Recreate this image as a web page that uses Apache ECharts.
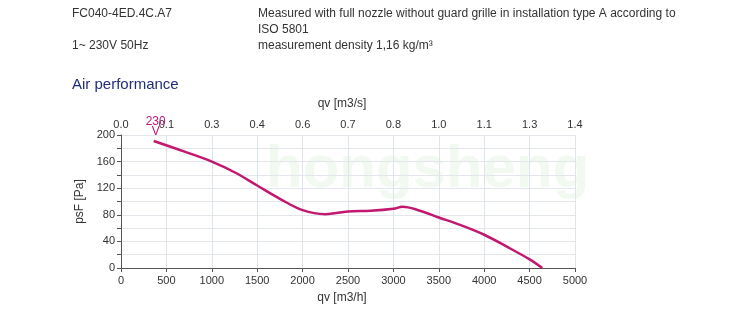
<!DOCTYPE html>
<html>
<head>
<meta charset="utf-8">
<script src="https://cdn.jsdelivr.net/npm/echarts@6/dist/echarts.min.js"></script>
<style>
html,body{margin:0;padding:0;background:#fff;}
#chart{width:750px;height:335px;}
</style>
</head>
<body>
<div id="chart"></div>
<script>
// Data
const flowM3h = [360, 700, 1000, 1250, 1500, 1750, 2000, 2250, 2500, 2750, 3000, 3100, 3250, 3500, 3750, 4000, 4250, 4500, 4640];
const pressurePa = [191, 175, 160, 144, 124, 104, 87, 81, 85, 86, 89, 92, 88, 76, 64, 50, 32, 13, 0];
const bottomTicks = [0, 500, 1000, 1500, 2000, 2500, 3000, 3500, 4000, 4500, 5000];
const topTickLabels = ['0.0', '0.1', '0.3', '0.4', '0.6', '0.7', '0.8', '1.0', '1.1', '1.3', '1.4'];
const yTicks = [0, 40, 80, 120, 160, 200];
const curveLabel = '230\nV';

const chart = echarts.init(document.getElementById('chart'), null, {renderer: 'canvas'});
const txt = '#333';
const font = '"Liberation Sans", Arial, sans-serif';

chart.setOption({
  animation: false,
  backgroundColor: '#fff',
  textStyle: {fontFamily: font},
  graphic: [
    {type: 'text', left: 72, top: 8, style: {text: 'FC040-4ED.4C.A7', font: '12px ' + font, fill: txt}},
    {type: 'text', left: 258, top: 8, style: {text: 'Measured with full nozzle without guard grille in installation type A according to', font: '12px ' + font, fill: txt}},
    {type: 'text', left: 258, top: 24, style: {text: 'ISO 5801', font: '12px ' + font, fill: txt}},
    {type: 'text', left: 72, top: 40, style: {text: '1~ 230V 50Hz', font: '12px ' + font, fill: txt}},
    {type: 'text', left: 258, top: 40, style: {text: 'measurement density 1,16 kg/m³', font: '12px ' + font, fill: txt}},
    {type: 'text', left: 72, top: 77, style: {text: 'Air performance', font: '15px ' + font, fill: '#1f2d7a'}},
    {type: 'text', left: 266, top: 140, z: -1, style: {text: 'hongsheng', font: 'bold 60px ' + font, fill: 'rgba(120,200,120,0.10)'}}
  ],
  grid: {left: 121, right: 175, top: 135, bottom: 67, containLabel: false},
  xAxis: [
    {
      type: 'value', position: 'bottom', min: 0, max: 5000, interval: 500,
      name: 'qv [m3/h]', nameLocation: 'middle', nameGap: 24,
      nameTextStyle: {color: txt, fontSize: 12, padding: [0, 12, 0, 0]},
      axisLine: {show: true, lineStyle: {color: '#555', width: 1}},
      axisTick: {show: true, length: 4, lineStyle: {color: '#555'}},
      axisLabel: {color: txt, fontSize: 11, margin: 7, formatter: v => String(v)},
      splitLine: {show: true, lineStyle: {color: '#dfe4ea', width: 1}}
    },
    {
      type: 'value', position: 'top', min: 0, max: 5000, interval: 500,
      name: 'qv [m3/s]', nameLocation: 'middle', nameGap: 25,
      nameTextStyle: {color: txt, fontSize: 12, padding: [0, 12, 0, 0]},
      axisLine: {show: false}, axisTick: {show: false},
      axisLabel: {color: txt, fontSize: 11, margin: 5,
        formatter: v => topTickLabels[bottomTicks.indexOf(v)] ?? ''},
      splitLine: {show: false}
    }
  ],
  yAxis: {
    type: 'value', min: 0, max: 200, interval: 20,
    name: 'psF [Pa]', nameLocation: 'middle', nameGap: 31, nameRotate: 90,
    nameTextStyle: {color: txt, fontSize: 12},
    axisLine: {show: true, lineStyle: {color: '#555', width: 1}},
    axisTick: {show: true, length: 4, lineStyle: {color: '#555'}},
    axisLabel: {color: txt, fontSize: 11, margin: 6,
      formatter: v => yTicks.includes(v) ? String(v) : ''},
    splitLine: {show: true, lineStyle: {color: '#e3e7ec', width: 1}}
  },
  series: [{
    type: 'line', xAxisIndex: 0, smooth: 0.35, symbol: 'none',
    data: flowM3h.map((x, i) => [x, pressurePa[i]]),
    lineStyle: {color: '#c2186f', width: 2.5},
    markPoint: {
      symbol: 'circle', symbolSize: 0,
      data: [{coord: [flowM3h[0], pressurePa[0]],
        label: {show: true, formatter: curveLabel, color: '#c2187a', fontSize: 12, lineHeight: 10, offset: [2, -14], align: 'center'}}]
    }
  }]
});
</script>
</body>
</html>
